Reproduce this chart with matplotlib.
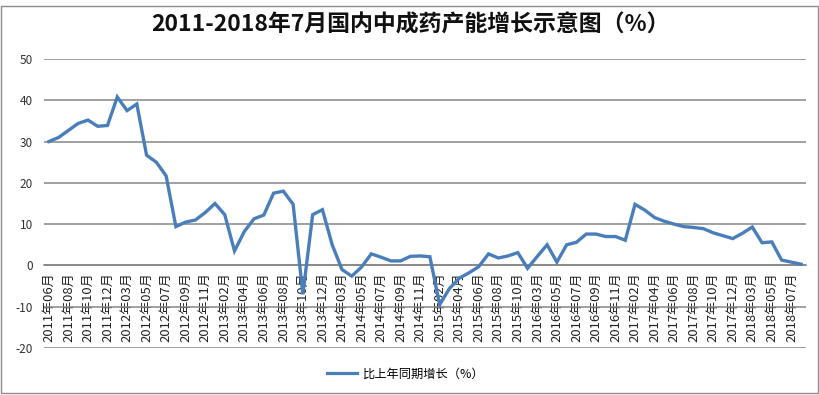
import matplotlib
matplotlib.use("Agg")
import matplotlib.pyplot as plt
from matplotlib.patches import Rectangle
from matplotlib.lines import Line2D

plt.rcParams['font.family'] = ['Noto Sans CJK SC', 'DejaVu Sans']

months = (
    ["2011年%02d月" % m for m in range(6, 13)]
    + ["2012年%02d月" % m for m in range(2, 13)]
    + ["2013年%02d月" % m for m in range(2, 13)]
    + ["2014年%02d月" % m for m in range(2, 13)]
    + ["2015年%02d月" % m for m in range(2, 11)] + ["2015年12月"]
    + ["2016年%02d月" % m for m in range(3, 13)]
    + ["2017年%02d月" % m for m in range(2, 13)]
    + ["2018年%02d月" % m for m in range(2, 9)]
)

growth = [
    30.0, 31.0, 32.7, 34.4, 35.2, 33.7, 33.9,
    40.8, 37.5, 39.1, 26.7, 25.0, 21.7, 9.4, 10.5, 11.0, 12.8, 15.0,
    12.3, 3.5, 8.2, 11.3, 12.2, 17.5, 18.0, 14.8, -7.0, 12.3, 13.5,
    5.0, -1.0, -2.6, -0.4, 2.8, 2.0, 1.1, 1.1, 2.2, 2.3, 2.1,
    -9.5, -5.6, -3.1, -1.8, -0.3, 2.8, 1.8, 2.3, 3.1, -0.7,
    2.2, 5.0, 0.8, 5.0, 5.6, 7.6, 7.6, 7.0, 7.0, 6.1,
    14.8, 13.4, 11.6, 10.7, 10.0, 9.4, 9.2, 8.9, 7.9, 7.2, 6.5,
    7.8, 9.3, 5.5, 5.7, 1.3, 0.8, 0.3,
]

yticks = [-20, -10, 0, 10, 20, 30, 40, 50]
title = "2011-2018年7月国内中成药产能增长示意图（%）"
series_name = "比上年同期增长（%）"

W, H = 820, 395
fig = plt.figure(figsize=(W / 100, H / 100), dpi=100)

# chart border
fig.patches.append(Rectangle((1 / W, 2 / H), (W - 3) / W, (H - 8) / H,
                             transform=fig.transFigure, fill=False,
                             edgecolor='#8c8c8c', linewidth=1))

left, right, top, bottom = 44, 806, 59, 348
ax = fig.add_axes([left / W, (H - bottom) / H, (right - left) / W, (bottom - top) / H])

for s in ['top', 'right', 'left']:
    ax.spines[s].set_visible(False)
ax.spines['bottom'].set_position(('data', 0))
ax.spines['bottom'].set_color('#868686')
ax.spines['bottom'].set_linewidth(1.1)

x = list(range(len(growth)))
ax.plot(x, growth, color='#4A7EBB', linewidth=2.4, solid_joinstyle='miter', zorder=3)

ax.set_xlim(-0.5, len(growth) - 0.5)
ax.set_ylim(-20, 50)
ax.set_yticks(yticks)
ax.set_yticklabels([str(v) for v in yticks], fontsize=8.5, color='#333333')
ax.yaxis.grid(True, color='#868686', linewidth=1.1)
ax.set_axisbelow(True)

ax.set_xticks(x[::2])
ax.set_xticklabels(months[::2], rotation=90, fontsize=9.4, color='#222222')
ax.tick_params(axis='x', length=0, pad=5)
ax.tick_params(axis='y', length=0, pad=8)

fig.text(0.5, (H - 25) / H, title, ha='center', va='center',
         fontsize=16.5, fontweight='bold', color='#111111')

fig.legend([Line2D([0], [0], color='#4A7EBB', linewidth=2.3)], [series_name],
           loc='center', bbox_to_anchor=(406 / W, (H - 374) / H),
           frameon=False, fontsize=8.8, handlelength=2.4, handletextpad=0.5)

fig.savefig("out.png", dpi=100)
